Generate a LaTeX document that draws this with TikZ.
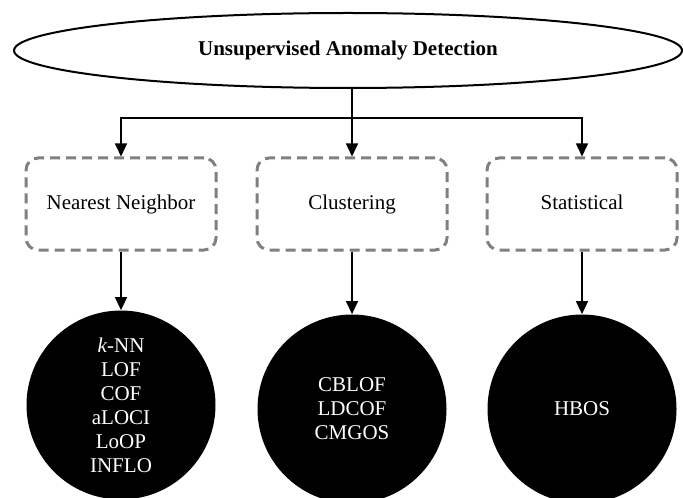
\documentclass[tikz,border=0pt]{standalone}
\usepackage{fontspec}
\setmainfont{Liberation Serif}
\usetikzlibrary{arrows.meta, shapes.geometric}
\begin{document}
\begin{tikzpicture}[x=0.5pt, y=-0.5pt,
font=\fontsize{10.5}{12}\selectfont,
root/.style={ellipse, draw=black, line width=1pt, minimum width=334pt, minimum height=37.5pt, font=\fontsize{10.5}{12}\selectfont\bfseries},
family/.style={rectangle, rounded corners=6pt, draw=gray, dash pattern=on 5pt off 3pt, line width=1.5pt, minimum width=95pt, minimum height=46pt, text height=1.6ex, text depth=0.45ex},
algos/.style={circle, fill=black, text=white, align=center, minimum size=94.5pt, inner sep=0pt},
link/.style={line width=0.75pt, -{Triangle[width=6pt, length=6.5pt]}},
]
\useasboundingbox (0,0) rectangle (683,497);

\node[root] (uad) at (348,50.5) {Unsupervised Anomaly Detection};

\node[family] (nn) at (121,204) {Nearest Neighbor};
\node[family] (clu) at (352,204) {Clustering};
\node[family] (stat) at (582,204) {Statistical};

\node[algos] (nnalg) at (121,405) {\textit{k}-NN\\LOF\\COF\\aLOCI\\LoOP\\INFLO};
\node[algos] (clualg) at (352,409) {CBLOF\\LDCOF\\CMGOS};
\node[algos] (statalg) at (582,409) {HBOS};

\coordinate (split) at (352,118);
\draw[line width=0.75pt] (split |- uad.south) -- (split);
\draw[link] (split) -| (nn.north);
\draw[link] (split) -- (clu.north);
\draw[link] (split) -| (stat.north);

\draw[link] (nn) -- (nnalg);
\draw[link] (clu) -- (clualg);
\draw[link] (stat) -- (statalg);
\end{tikzpicture}
\end{document}
